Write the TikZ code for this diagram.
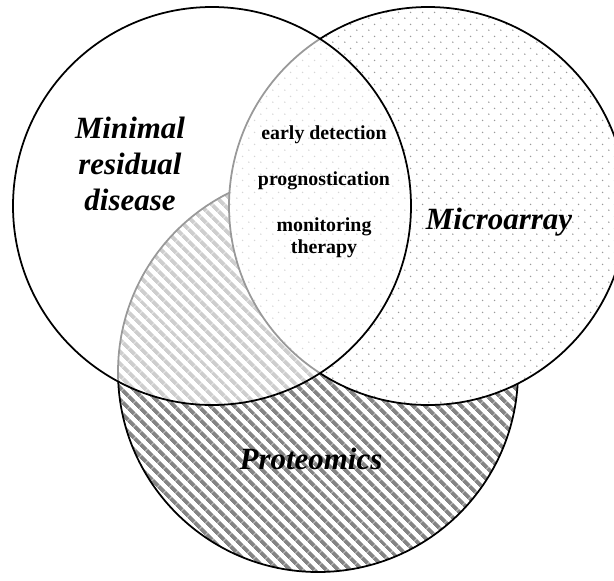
\documentclass[tikz,border=0pt]{standalone}
\usepackage{fontspec}
\setmainfont{Liberation Serif}
\usetikzlibrary{patterns.meta}

\tikzdeclarepattern{
  name=sparsedots,
  type=uncolored,
  bounding box={(0,0) and (0.234cm,0.234cm)},
  tile size={(0.234cm,0.234cm)},
  code={
    \fill (0.0585cm,0.0585cm) circle (0.45pt);
    \fill (0.1755cm,0.1755cm) circle (0.45pt);
  }
}
\tikzdeclarepattern{
  name=widestripes,
  type=uncolored,
  bounding box={(0,0) and (0.166cm,0.166cm)},
  tile size={(0.166cm,0.166cm)},
  tile transformation={rotate=-45},
  code={
    \fill (0,0) rectangle (0.166cm,0.08cm);
  }
}

\begin{document}
\begin{tikzpicture}[line width=1pt]
\tikzstyle{setname} = [font=\fontsize{17.6}{20.5}\selectfont\bfseries\itshape, align=center]
\tikzstyle{usage} = [font=\fontsize{11.3}{13}\selectfont\bfseries, align=center]
    \useasboundingbox (0,0) rectangle (12.28,-11.6);
    \coordinate (mrd) at (4.24,-4.12);
    \coordinate (arr) at (8.56,-4.12);
    \coordinate (prot) at (6.36,-7.44);

    \draw[preaction={fill=white}, pattern=widestripes, pattern color=black!48] (prot) circle (4);
    \draw[preaction={fill=white}, pattern=sparsedots, pattern color=black!40] (arr) circle (3.98);
    \draw[fill=white, fill opacity=0.6] (mrd) circle (3.98);

    \node[setname] (mrdlabel) at (2.6,-3.28) {Minimal\\residual\\disease};
    \node[setname] (arrlabel) at (9.98,-4.44) {Microarray};
    \node[setname] (protlabel) at (6.22,-9.18) {Proteomics};
    \node[usage] (uses) at (6.48,-3.84) {early detection\\[13pt]prognostication\\[13pt]monitoring\\therapy};
\end{tikzpicture}
\end{document}
